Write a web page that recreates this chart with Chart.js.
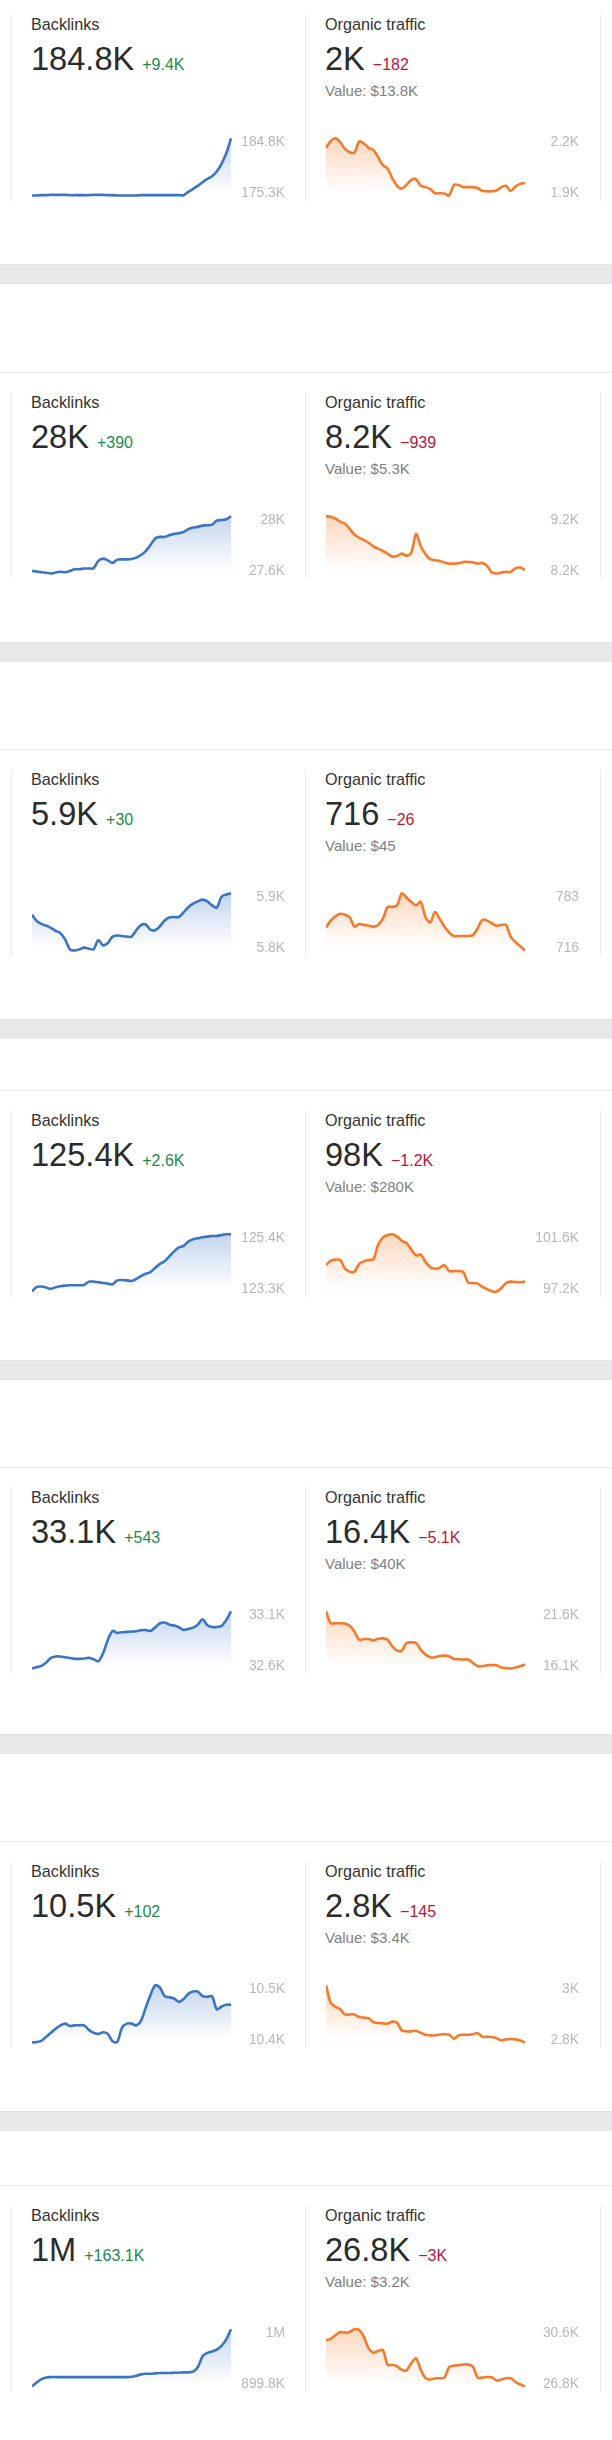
<!DOCTYPE html>
<html><head><meta charset="utf-8">
<script src="https://cdn.jsdelivr.net/npm/chart.js@4"></script>
<style>
html,body{margin:0;padding:0;background:#fff}
#page{position:relative;width:612px;height:2440px;overflow:hidden;font-family:"Liberation Sans",Helvetica,Arial,sans-serif}
#page>*{position:absolute}
.t{font-size:16.2px;line-height:20px;color:#333;white-space:nowrap}
.n{font-size:32.6px;line-height:32px;color:#2b2b2b;white-space:nowrap}
.d{font-size:16px;margin-left:8px}
.v{font-size:15px;line-height:20px;color:#7d7f82;white-space:nowrap}
.hr{left:0;width:612px;height:1px;background:#e9ebec}
.vl{width:1px;background:#ececee}
.band{left:0;width:612px;height:20px;background:#e6e8ea;border-top:1px solid #dfe1e3;box-sizing:border-box}
</style></head><body><div id="page"></div>
<script>
const weeks = ["w1","w2","w3","w4","w5","w6","w7","w8","w9","w10","w11","w12","w13","w14","w15","w16","w17","w18","w19","w20","w21","w22","w23","w24","w25","w26","w27","w28","w29","w30","w31","w32","w33","w34","w35","w36","w37","w38","w39","w40","w41","w42","w43"];

const backlinks1 = [175300,175300,175355,175355,175410,175410,175410,175410,175355,175355,175355,175355,175355,175410,175410,175410,175355,175355,175300,175300,175300,175300,175300,175355,175355,175355,175355,175355,175355,175355,175355,175355,175355,175907,176404,176901,177508,178060,178502,179274,180544,182310,184800];
const traffic1 = [2149,2186,2200,2180,2144,2127,2125,2183,2173,2149,2139,2101,2059,2042,1990,1951,1936,1956,1982,1985,1951,1944,1934,1912,1912,1910,1900,1956,1955,1944,1944,1943,1939,1924,1922,1922,1926,1944,1951,1924,1948,1961,1965];
const backlinks2 = [27618,27614,27609,27605,27600,27607,27612,27609,27618,27630,27630,27635,27635,27637,27688,27704,27692,27674,27697,27699,27699,27702,27711,27729,27757,27799,27845,27856,27856,27868,27877,27882,27891,27910,27921,27926,27935,27937,27942,27970,27974,27979,28000];
const traffic2 = [9200,9194,9159,9107,9073,8980,8882,8824,8784,8738,8674,8634,8593,8547,8495,8506,8547,8512,8564,8894,8680,8535,8449,8431,8420,8391,8373,8373,8379,8402,8402,8397,8373,8385,8333,8217,8200,8217,8229,8229,8292,8304,8264];
const backlinks3 = [5863,5852,5847,5844,5840,5835,5831,5820,5803,5801,5803,5806,5804,5803,5819,5810,5814,5825,5827,5826,5825,5825,5836,5845,5846,5837,5836,5843,5853,5858,5859,5859,5867,5876,5882,5886,5889,5886,5879,5875,5894,5898,5900];
const traffic3 = [743,751,756,759,758,755,744,747,746,745,744,746,753,767,767,769,783,778,773,769,773,755,749,761,753,744,737,733,733,733,733,734,742,752,751,748,745,746,746,732,726,721,716];
const backlinks4 = [123300,123469,123481,123445,123397,123457,123493,123517,123529,123529,123529,123541,123662,123662,123638,123614,123590,123566,123710,123722,123710,123686,123759,123867,123952,124012,124169,124314,124410,124591,124773,124917,124978,125135,125219,125255,125292,125316,125340,125340,125376,125400,125400];
const traffic4 = [99224,99578,99654,99629,98971,98718,98718,99325,99528,99629,99679,100793,101349,101552,101600,101425,101096,100944,100413,99983,100034,99477,99072,98946,99022,99224,98769,98769,98769,98693,97883,97858,97807,97554,97377,97225,97200,97453,97858,97959,97934,97908,97959];
const backlinks5 = [32603,32614,32626,32655,32695,32707,32707,32701,32695,32687,32687,32690,32695,32684,32666,32736,32851,32929,32912,32918,32921,32924,32927,32935,32938,32929,32961,32996,33002,32984,32976,32961,32938,32947,32958,32984,33031,32979,32964,32964,32973,33025,33100];
const traffic5 = [21600,20457,20457,20457,20425,20202,19662,18867,18930,18930,18803,18962,18994,18867,18231,17817,17817,18549,18612,18549,17913,17436,17181,17181,17308,17340,17277,17022,16990,16959,16959,16641,16323,16323,16418,16418,16418,16195,16132,16100,16195,16323,16482];
const backlinks6 = [10400,10401,10403,10410,10417,10424,10430,10433,10429,10430,10430,10430,10422,10417,10415,10418,10415,10402,10401,10426,10433,10433,10430,10438,10461,10483,10500,10496,10481,10479,10477,10471,10476,10485,10489,10489,10481,10480,10481,10458,10463,10466,10466];
const traffic6 = [3000,2939,2925,2916,2898,2898,2898,2889,2887,2885,2871,2868,2867,2866,2873,2869,2842,2839,2839,2841,2834,2827,2825,2825,2828,2829,2827,2813,2825,2827,2827,2829,2833,2820,2820,2819,2815,2808,2811,2812,2811,2807,2800];
const backlinks7 = [899800,906868,912758,915703,916292,916292,916292,916292,916292,916292,916292,916292,916292,916292,916292,916292,916292,916292,916292,916292,916292,916881,918648,921004,922182,922182,922771,923360,923360,923360,923949,923949,924538,924538,925716,933962,952810,958700,961056,964590,971069,982260,1000000];
const traffic7 = [29860,29947,30185,30402,30359,30402,30576,30532,30077,29317,29035,29144,29209,28232,28232,28124,27907,27863,28341,28666,27907,27364,27256,27343,27343,27386,28080,28167,28211,28254,28254,28124,27386,27386,27429,27408,27191,27256,27343,27343,27104,26930,26800];

const backlinkSeries = [backlinks1,backlinks2,backlinks3,backlinks4,backlinks5,backlinks6,backlinks7];
const trafficSeries = [traffic1,traffic2,traffic3,traffic4,traffic5,traffic6,traffic7];

const backlinkTotals = ["184.8K","28K","5.9K","125.4K","33.1K","10.5K","1M"];
const backlinkDeltas = ["+9.4K","+390","+30","+2.6K","+543","+102","+163.1K"];
const backlinkTicks = [["184.8K","175.3K"],["28K","27.6K"],["5.9K","5.8K"],["125.4K","123.3K"],["33.1K","32.6K"],["10.5K","10.4K"],["1M","899.8K"]];
const trafficTotals = ["2K","8.2K","716","98K","16.4K","2.8K","26.8K"];
const trafficDeltas = ["−182","−939","−26","−1.2K","−5.1K","−145","−3K"];
const trafficValues = ["$13.8K","$5.3K","$45","$280K","$40K","$3.4K","$3.2K"];
const trafficTicks = [["2.2K","1.9K"],["9.2K","8.2K"],["783","716"],["101.6K","97.2K"],["21.6K","16.1K"],["3K","2.8K"],["30.6K","26.8K"]];

const rowTops = [25,402.7,779.8,1120.7,1497.7,1871.7,2215.7];
const bandTops = [264,642,1019,1360,1733.5,2111];
const page = document.getElementById('page');
function el(cls,css,html){const e=document.createElement('div');e.className=cls;Object.assign(e.style,css);if(html!=null)e.innerHTML=html;page.appendChild(e);return e;}

function spark(x,T,w,axisW,data,ticks,rgb,stroke){
  const c=document.createElement('canvas');
  const H=80;
  c.style.position='absolute';c.style.left=x+'px';c.style.top=(T+100)+'px';
  c.style.width=w+'px';c.style.height=H+'px';c.width=w;c.height=H;
  page.appendChild(c);
  const hi=Math.max(...data),lo=Math.min(...data),r=hi-lo,ppx=r/57.2;
  new Chart(c,{type:'line',data:{labels:weeks,datasets:[{data,borderColor:stroke,borderWidth:2.6,pointRadius:0,tension:0.3,fill:'start',
    backgroundColor(ctx){const ch=ctx.chart;if(!ch.chartArea)return 'transparent';
      const g=ch.ctx.createLinearGradient(0,13,0,68);
      g.addColorStop(0,`rgba(${rgb},0.3)`);g.addColorStop(1,`rgba(${rgb},0)`);return g;}}]},
    options:{responsive:false,animation:false,devicePixelRatio:window.devicePixelRatio||1,layout:{padding:0},
      plugins:{legend:{display:false},tooltip:{enabled:false}},
      scales:{
        x:{display:false,offset:false},
        y:{position:'right',min:lo-9.5*ppx,max:hi+13.3*ppx,
          grid:{display:false},border:{display:false},
          afterFit(s){s.width=axisW;s.paddingTop=0;s.paddingBottom=0;},
          afterBuildTicks(s){s.ticks=[{value:lo+2.8*ppx},{value:hi-3.4*ppx}];},
          ticks:{crossAlign:'far',padding:0,autoSkip:false,color:'#b7b7b7',font:{family:'"Liberation Sans",Helvetica,Arial,sans-serif',size:13.8},
            callback(v,i){return ticks[1-i];}}
        }}}});
}

rowTops.forEach((T,i)=>{
  if(i>0) el('hr',{top:Math.round(T-30.4)+'px'});
  [11,305,600].forEach(x=>el('vl',{left:x+'px',top:(T-11)+'px',height:'187px'}));
  el('t',{left:'31px',top:(T-10.6)+'px'},'Backlinks');
  el('t',{left:'325px',top:(T-10.6)+'px'},'Organic traffic');
  el('n',{left:'31px',top:(T+18)+'px'},backlinkTotals[i]+`<span class="d" style="color:#1c8a4e">${backlinkDeltas[i]}</span>`);
  el('n',{left:'325px',top:(T+18)+'px'},trafficTotals[i]+`<span class="d" style="color:#b8163c">${trafficDeltas[i]}</span>`);
  el('v',{left:'325px',top:(T+56)+'px'},'Value: '+trafficValues[i]);
  spark(32,T,253,54,backlinkSeries[i],backlinkTicks[i],'59,115,196','#3b74c4');
  spark(326,T,253,54,trafficSeries[i],trafficTicks[i],'244,123,42','#f47b2b');
  if(i<bandTops.length) el('band',{top:bandTops[i]+'px'});
});
</script></body></html>
